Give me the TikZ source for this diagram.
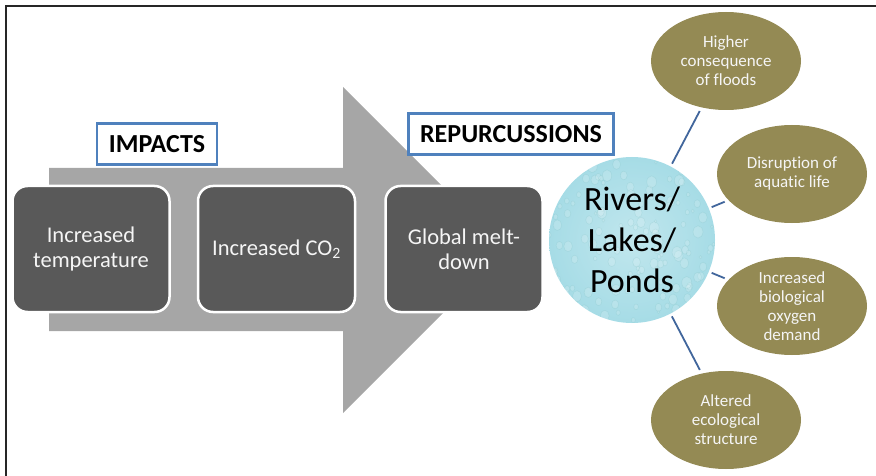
\documentclass[tikz,border=0pt]{standalone}
\usepackage{fontspec}
\setsansfont{Carlito}[Ligatures=NoCommon]
\usetikzlibrary{shapes,arrows,positioning,calc}
\definecolor{slate}{HTML}{595959}
\definecolor{shaft}{HTML}{A6A6A6}
\definecolor{khaki}{HTML}{948A54}
\definecolor{steel}{HTML}{4F81BD}
\definecolor{wire}{HTML}{41669C}
\definecolor{pool}{HTML}{A6DCE6}
\tikzset{every picture/.style={/utils/exec={\sffamily}}}

\begin{document}
\begin{tikzpicture}[x=1pt, y=-1pt, node distance = 26pt, auto, >=latex,
   effect/.style={draw=white, line width=2.5pt, fill=slate, rounded corners=15pt, minimum width=157pt, minimum height=126pt, text=white!96!black, font=\fontsize{22.5}{25}\selectfont, inner sep=0pt},
   heading/.style={draw=steel, line width=2.5pt, fill=white, font=\bfseries\fontsize{26}{28}\selectfont, minimum height=41pt, inner sep=0pt},
   outcome/.style={ellipse, fill=khaki, minimum width=150pt, minimum height=98pt, text=white!96!black, font=\fontsize{17}{19}\selectfont, inner sep=0pt},
   link/.style={draw=wire, line width=1.8pt, shorten <=3pt, shorten >=4pt},
   every text node part/.style={align=center}]

    \useasboundingbox (0,0) rectangle (876,476);
    \draw [line width=2.5pt, color=black!85] (6,476) -- (6,6) -- (876,6);

    % big arrow behind the boxes
    \fill [shaft] (49,168) -- (343,168) -- (343,87) -- (506,250) -- (343,413) -- (343,331) -- (49,331) -- cycle;

    % Place nodes
    \node [effect] (temp) at (91,249) {Increased\\temperature};
    \node [effect, right=of temp] (co2) {Increased\ CO\textsubscript{2}};
    \node [effect, right=28pt of co2] (melt) {Global melt-\\down};

    \node [heading, minimum width=120pt] (impacts) at (157,144) {IMPACTS};
    \node [heading, minimum width=205pt] (repurc) at (511,134) {REPURCUSSIONS};

    \node [circle, minimum size=166pt, inner sep=0pt, inner color=pool!70, outer color=pool,
       path picture={
         \pgfmathsetseed{11}
         \foreach \i in {1,...,160} {
           \pgfmathsetmacro\dx{rand*84}
           \pgfmathsetmacro\dy{rand*84}
           \pgfmathsetmacro\rr{1.2+3.8*rnd}
           \draw [teal!60, line width=.5pt, draw opacity=.18, fill=white, fill opacity=.16]
             ($(path picture bounding box.center)+(\dx,\dy)$) ellipse ({\rr pt} and {1.25*\rr pt});
         }
       }] (water) at (632,240) {};
    \node [align=left, font=\fontsize{34}{41}\selectfont] (waterlbl) at (water) {Rivers/\\Lakes/\\Ponds};

    \node [outcome] (floods) at (726,61) {Higher\\consequence\\of floods};
    \node [outcome] (aquatic) at (792,174) {Disruption of\\aquatic life};
    \node [outcome] (oxygen) at (792,306) {Increased\\biological\\oxygen\\demand};
    \node [outcome] (ecology) at (726,420) {Altered\\ecological\\structure};

    % Draw edges
    \path [link] (water) -- (floods);
    \path [link] (water) -- (aquatic);
    \path [link] (water) -- (oxygen);
    \path [link] (water) -- (ecology);
\end{tikzpicture}
\end{document}
